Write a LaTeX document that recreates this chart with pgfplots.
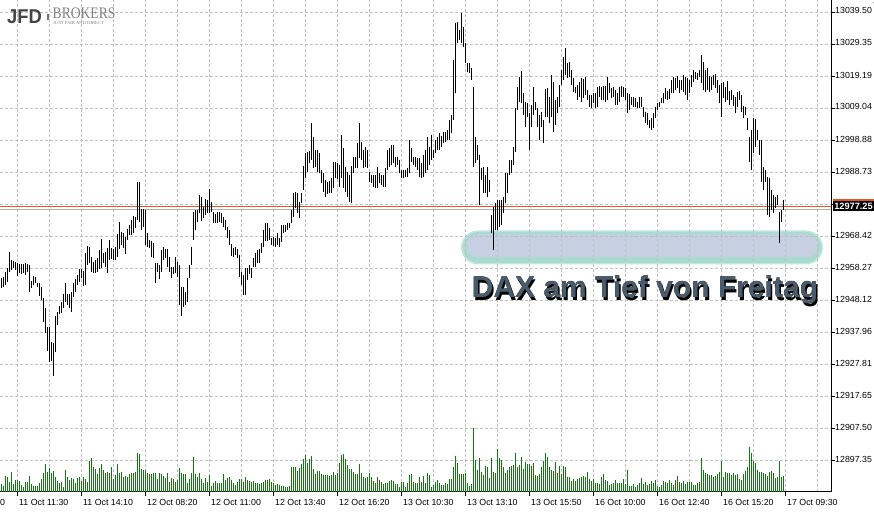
\documentclass[border=0pt]{standalone}
\usepackage{fontspec}
\setmainfont{Liberation Sans}
\newfontfamily\logoserif{Liberation Serif}
\usepackage{graphicx}
\usepackage{pdfrender}
\usepackage{pgfplots}
\usepackage{pgfplotstable}
\pgfplotsset{compat=1.18}

\definecolor{gridgray}{RGB}{192,192,192}
\definecolor{volgreen}{RGB}{16,122,16}
\definecolor{bidgray}{RGB}{176,176,176}
\definecolor{askorange}{RGB}{232,86,40}
\definecolor{elfill}{RGB}{198,208,226}
\definecolor{elmint}{RGB}{168,218,208}
\definecolor{daxtext}{RGB}{74,92,108}
\definecolor{logogray}{RGB}{68,68,68}
\definecolor{shadowgray}{RGB}{205,205,205}

\newcommand\ticks{\fontsize{8.8}{10}\selectfont}
\newcommand\bigf{\bfseries\fontsize{30}{32}\selectfont}

% bar index k, high, low, volume (px = 1 + 2k)
\pgfplotstableread{
k h l v
0 12955.10 12951.92 24
1 12955.62 12952.45 18
2 12957.21 12952.98 48
3 12958.27 12953.83 44
4 12963.56 12957.21 31
5 12960.91 12957.74 59
6 12960.70 12958.27 24
7 12960.38 12957.74 36
8 12959.85 12955.84 36
9 12959.54 12956.68 34
10 12959.64 12956.47 21
11 12959.64 12956.89 14
12 12959.85 12956.15 29
13 12959.54 12957.21 29
14 12959.33 12950.87 48
15 12954.36 12951.92 23
16 12955.84 12952.98 19
17 12955.41 12953.51 18
18 12953.51 12952.45 19
19 12953.51 12949.60 26
20 12952.24 12948.22 38
21 12948.75 12941.35 56
22 12945.58 12937.65 84
23 12939.76 12932.15 59
24 12939.76 12928.66 73
25 12934.79 12928.87 56
26 12934.69 12924.22 63
27 12943.15 12931.62 44
28 12944.52 12940.29 33
29 12946.42 12943.68 26
30 12947.69 12944.20 31
31 12950.13 12945.58 16
32 12953.72 12947.69 66
33 12950.13 12946.64 46
34 12950.13 12945.58 36
35 12950.87 12944.52 41
36 12953.72 12949.28 38
37 12954.78 12950.87 26
38 12956.15 12952.98 41
39 12957.95 12954.04 44
40 12957.95 12955.10 33
41 12957.53 12952.66 46
42 12963.24 12952.98 38
43 12965.35 12959.33 31
44 12964.93 12959.85 93
45 12961.97 12957.21 103
46 12960.38 12956.68 74
47 12960.91 12956.89 68
48 12961.44 12957.21 54
49 12964.08 12957.95 71
50 12967.47 12958.27 84
51 12963.03 12959.85 66
52 12963.56 12958.80 56
53 12964.61 12956.89 59
54 12967.26 12960.91 58
55 12964.61 12961.12 76
56 12964.30 12960.91 38
57 12965.14 12960.91 51
58 12969.16 12961.97 84
59 12973.07 12964.40 58
60 12969.69 12965.67 61
61 12969.37 12964.61 44
62 12968.10 12962.82 48
63 12970.64 12967.26 44
64 12972.02 12968.84 54
65 12973.60 12968.84 56
66 12974.87 12969.37 58
67 12974.45 12970.96 61
68 12985.76 12973.60 118
69 12985.76 12973.07 113
70 12976.99 12970.43 68
71 12976.99 12971.28 66
72 12976.77 12965.67 66
73 12969.37 12965.14 56
74 12967.26 12964.61 53
75 12967.05 12961.97 53
76 12966.41 12961.44 58
77 12959.85 12953.51 56
78 12959.85 12957.21 38
79 12959.33 12954.78 58
80 12964.08 12957.21 54
81 12965.14 12960.91 48
82 12964.40 12961.44 41
83 12964.30 12958.80 58
84 12961.97 12957.21 31
85 12958.59 12955.10 41
86 12958.80 12956.47 39
87 12961.97 12956.68 31
88 12960.38 12955.62 36
89 12959.33 12946.64 71
90 12952.45 12943.25 56
91 12952.24 12946.11 53
92 12950.87 12946.64 53
93 12955.31 12947.69 28
94 12959.33 12955.10 38
95 12965.14 12959.33 58
96 12976.25 12967.26 106
97 12976.77 12970.43 54
98 12976.77 12973.07 44
99 12981.53 12975.72 58
100 12981.00 12973.39 38
101 12977.83 12974.13 28
102 12980.16 12975.19 41
103 12979.95 12975.72 31
104 12983.33 12975.72 51
105 12979.42 12976.25 18
106 12976.03 12972.76 28
107 12975.51 12972.76 33
108 12976.03 12972.76 28
109 12976.03 12973.07 26
110 12975.72 12972.76 28
111 12974.66 12971.49 54
112 12973.60 12970.43 36
113 12971.49 12968.00 41
114 12970.43 12965.67 46
115 12965.99 12962.18 36
116 12964.61 12961.97 26
117 12965.14 12962.50 21
118 12964.30 12961.44 31
119 12962.50 12955.62 39
120 12957.21 12952.98 39
121 12956.15 12949.81 31
122 12958.27 12949.81 46
123 12958.27 12954.57 36
124 12959.33 12956.47 33
125 12958.27 12955.10 29
126 12961.44 12958.59 33
127 12963.03 12958.59 28
128 12964.08 12959.85 26
129 12964.30 12959.85 23
130 12966.41 12963.03 28
131 12970.43 12965.14 31
132 12972.76 12967.05 36
133 12972.76 12967.05 36
134 12970.96 12967.26 38
135 12967.79 12965.67 31
136 12968.10 12965.46 26
137 12967.79 12965.14 21
138 12969.37 12965.67 23
139 12967.79 12965.14 20
140 12972.02 12966.73 19
141 12972.02 12969.37 19
142 12972.02 12969.90 16
143 12972.76 12970.43 14
144 12972.76 12970.96 18
145 12976.77 12972.54 74
146 12982.06 12974.66 76
147 12982.59 12977.30 74
148 12982.06 12975.72 64
149 12979.42 12974.13 71
150 12982.06 12978.89 84
151 12990.73 12983.12 98
152 12994.75 12986.82 111
153 12995.28 12988.93 86
154 12995.60 12991.58 98
155 13004.27 12992.63 108
156 13000.04 12989.99 68
157 12995.81 12990.52 53
158 12995.81 12988.93 63
159 12994.75 12988.40 63
160 12989.46 12985.23 53
161 12988.40 12982.59 51
162 12986.29 12981.00 51
163 12985.76 12981.85 51
164 12986.08 12982.06 48
165 12986.82 12982.06 51
166 12992.11 12983.65 61
167 12992.11 12986.82 51
168 12991.58 12986.50 58
169 12991.05 12984.17 88
170 13000.57 12986.82 112
171 12996.34 12983.65 114
172 12990.52 12982.59 98
173 12988.93 12981.00 82
174 12987.88 12979.42 70
175 12990.73 12979.10 68
176 12993.69 12988.40 60
177 12993.69 12989.99 54
178 12997.92 12989.99 54
179 13004.27 12993.16 84
180 12998.45 12992.63 56
181 12995.81 12989.99 46
182 12996.86 12990.52 41
183 12995.81 12989.99 46
184 12988.93 12985.76 58
185 12987.88 12985.23 46
186 12987.88 12984.17 34
187 12987.88 12983.65 28
188 12990.52 12983.65 44
189 12988.40 12985.23 36
190 12987.88 12984.70 31
191 12987.88 12984.17 23
192 12989.99 12984.17 28
193 12995.81 12989.46 28
194 12996.34 12990.52 33
195 12997.39 12991.05 36
196 12997.39 12991.58 33
197 12993.69 12990.52 23
198 12993.69 12991.05 23
199 12992.63 12988.40 16
200 12989.46 12986.82 29
201 12989.46 12986.82 29
202 12989.46 12987.35 16
203 12989.99 12987.35 26
204 12998.98 12988.40 51
205 12996.34 12992.11 54
206 12993.69 12991.05 31
207 12993.69 12990.52 26
208 12993.16 12989.46 28
209 12993.16 12987.35 46
210 12991.58 12986.82 31
211 12994.23 12987.35 48
212 12995.81 12988.41 26
213 13000.04 12989.47 56
214 12996.87 12991.05 51
215 13000.57 12992.64 16
216 12995.81 12993.17 21
217 12998.98 12994.75 31
218 13000.04 12995.81 36
219 13001.31 12995.81 26
220 13000.25 12996.87 21
221 13001.63 12997.93 21
222 13001.63 12998.46 28
223 13002.16 12998.98 23
224 13005.33 12998.98 38
225 13006.92 13001.10 38
226 13024.36 13005.33 76
227 13036.00 13013.79 108
228 13036.53 13029.65 88
229 13033.88 13030.71 53
230 13039.38 13029.65 53
231 13034.94 13028.59 53
232 13029.65 13023.31 58
233 13023.52 13020.66 26
234 13023.31 13020.13 18
235 13021.72 13018.02 23
236 13015.90 12990.52 191
237 13000.04 12991.58 96
238 12997.40 12992.64 66
239 12994.23 12978.36 101
240 12990.00 12986.29 61
241 12990.52 12982.06 51
242 12987.88 12982.06 79
243 12990.52 12981.01 74
244 12986.29 12982.59 41
245 12975.19 12969.37 101
246 12977.83 12964.09 61
247 12978.89 12970.43 58
248 12979.95 12970.43 128
249 12979.95 12971.49 101
250 12979.95 12972.02 96
251 12981.01 12975.72 76
252 12988.41 12978.89 58
253 12988.41 12982.06 66
254 12992.64 12987.88 76
255 12992.64 12988.41 78
256 12996.87 12991.05 81
257 13009.03 12995.28 116
258 13015.69 13008.50 74
259 13019.08 13011.15 81
260 13020.88 13010.62 104
261 13013.79 13006.92 69
262 13011.15 13003.21 91
263 13010.62 13006.39 83
264 13007.44 12995.81 84
265 13010.09 13003.21 79
266 13015.90 13006.92 86
267 13011.15 13008.50 51
268 13009.03 13003.21 48
269 13006.92 12998.98 54
270 13007.97 13003.21 76
271 13005.33 12997.93 94
272 13015.06 13006.39 116
273 13015.38 13006.39 104
274 13012.73 13004.27 76
275 13019.61 13006.39 66
276 13017.49 13001.63 63
277 13011.67 13003.74 89
278 13012.73 13007.44 58
279 13016.43 13009.56 78
280 13021.19 13016.43 54
281 13025.42 13018.02 78
282 13028.07 13019.61 74
283 13023.31 13018.55 46
284 13023.84 13019.08 44
285 13021.19 13016.43 34
286 13018.55 13014.32 38
287 13015.90 13013.79 34
288 13016.43 13011.67 38
289 13017.49 13012.73 41
290 13018.55 13011.15 44
291 13018.23 13012.20 48
292 13019.08 13013.26 44
293 13014.85 13011.67 61
294 13013.26 13009.56 38
295 13013.26 13009.03 34
296 13013.79 13010.62 38
297 13013.79 13009.03 26
298 13015.90 13009.56 28
299 13016.12 13012.73 23
300 13015.90 13011.67 44
301 13016.12 13011.67 53
302 13016.12 13011.15 36
303 13019.08 13011.67 33
304 13016.96 13013.79 21
305 13015.38 13012.20 23
306 13015.69 13012.73 26
307 13014.85 13010.09 36
308 13013.79 13010.09 26
309 13015.69 13011.15 28
310 13016.12 13012.73 26
311 13015.69 13012.73 38
312 13015.38 13011.67 23
313 13013.79 13007.44 66
314 13013.58 13008.50 18
315 13012.73 13010.09 18
316 13012.52 13009.56 24
317 13012.20 13009.35 16
318 13011.15 13009.03 21
319 13012.73 13009.03 26
320 13012.52 13009.56 41
321 13009.56 13006.39 24
322 13007.97 13004.27 31
323 13007.44 13003.74 21
324 13005.33 13002.69 24
325 13005.86 13002.16 33
326 13007.44 13002.69 26
327 13009.35 13005.86 36
328 13010.62 13008.50 18
329 13011.15 13009.35 16
330 13012.20 13010.62 21
331 13013.79 13010.62 33
332 13015.38 13011.89 31
333 13014.64 13011.67 28
334 13015.06 13011.89 36
335 13018.02 13013.79 28
336 13019.08 13014.00 21
337 13018.55 13014.85 36
338 13019.29 13015.38 48
339 13018.02 13013.79 31
340 13018.02 13014.85 26
341 13019.61 13014.32 33
342 13019.08 13013.26 23
343 13018.55 13011.67 31
344 13018.02 13013.79 31
345 13019.61 13015.90 31
346 13021.19 13017.49 21
347 13020.66 13018.23 21
348 13020.35 13018.02 26
349 13021.19 13019.08 31
350 13025.95 13016.96 101
351 13023.84 13014.85 66
352 13021.19 13014.32 56
353 13021.72 13014.85 53
354 13019.29 13014.32 51
355 13019.08 13014.85 51
356 13019.61 13016.43 46
357 13019.92 13015.38 48
358 13018.02 13013.79 54
359 13016.43 13010.62 61
360 13017.17 13006.39 94
361 13017.49 13012.20 46
362 13015.90 13011.15 61
363 13017.81 13011.67 58
364 13014.64 13010.09 58
365 13014.85 13011.67 51
366 13013.26 13009.77 56
367 13012.73 13007.66 51
368 13014.32 13009.56 54
369 13014.64 13011.67 38
370 13013.26 13007.97 36
371 13009.77 13005.86 53
372 13009.56 13006.92 64
373 13005.86 13002.16 74
374 13000.04 12992.11 136
375 13002.16 12989.47 118
376 13005.86 12994.75 94
377 13005.54 12996.87 86
378 13002.16 12998.98 66
379 12998.98 12994.23 61
380 12998.98 12985.66 61
381 12990.42 12983.12 56
382 12989.47 12985.66 53
383 12987.25 12975.19 48
384 12986.93 12974.56 61
385 12983.12 12976.78 64
386 12981.53 12975.82 56
387 12980.90 12977.41 41
388 12981.53 12978.36 44
389 12976.14 12966.31 94
390 12976.78 12972.97 46
391 12979.95 12976.78 48
}\bars

\begin{document}
\begin{tikzpicture}
% highlighted zone behind the chart
\fill[elmint!70, rounded corners=17pt] (461pt,248.5pt) rectangle (823pt,282.5pt);
\fill[elmint, rounded corners=15.5pt] (463pt,250pt) rectangle (821pt,281pt);
\fill[elfill, rounded corners=11pt] (466pt,256pt) rectangle (818pt,278.5pt);

\begin{axis}[
  at={(0pt,21pt)}, anchor=south west,
  scale only axis, width=831pt, height=492pt,
  xmin=-0.5, xmax=415, ymin=12887.31, ymax=13043.40,
  axis x line=bottom, axis y line=right,
  axis line style={-, black, line width=1pt},
  xtick={8,40,...,392}, xticklabels={},
  minor xtick={24,56,...,408},
  ytick={13039.50,13029.35,13019.19,13009.04,12998.88,12988.73,12978.58,12968.42,12958.27,12948.12,12937.96,12927.81,12917.65,12907.50,12897.35},
  yticklabels={13039.50,13029.35,13019.19,13009.04,12998.88,12988.73,12978.58,12968.42,12958.27,12948.12,12937.96,12927.81,12917.65,12907.50,12897.35},
  xmajorgrids, xminorgrids, ymajorgrids,
  grid style={gridgray, line width=1pt, dash pattern=on 3pt off 2pt},
  minor grid style={gridgray, line width=1pt, dash pattern=on 3pt off 2pt},
  tick align=outside, major tick length=4pt, minor tick length=0pt,
  tick style={black, line width=1pt},
  yticklabel style={font=\ticks, anchor=base west, inner sep=0pt, xshift=0pt, yshift=-1.7pt},
  /pgf/number format/assume math mode=true,
]
  \addplot[askorange, line width=1pt, forget plot] coordinates {(-0.5,12977.94) (415,12977.94)};
  \addplot[bidgray, line width=1pt, forget plot] coordinates {(-0.5,12977.00) (415,12977.00)};
  \addplot[draw=none, mark=none, forget plot,
    error bars/.cd, y dir=plus, y explicit, error mark=none,
    error bar style={draw=black, line width=1pt, solid}]
    table[x=k, y=l, y error expr=\thisrow{h}-\thisrow{l}] {\bars};
\end{axis}

\begin{axis}[
  at={(0pt,21pt)}, anchor=south west,
  scale only axis, width=831pt, height=492pt,
  xmin=-0.5, xmax=415, ymin=0, ymax=1476,
  hide axis,
]
  \addplot[ycomb, volgreen, line width=1pt, mark=none] table[x=k, y=v] {\bars};
\end{axis}

% time labels, left aligned at the ticks (px = 1 + 2k)
\foreach \k/\lab in {-24/11 Oct 08:50, 8/11 Oct 11:30, 40/11 Oct 14:10, 72/12 Oct 08:20,
  104/12 Oct 11:00, 136/12 Oct 13:40, 168/12 Oct 16:20, 200/13 Oct 10:30,
  232/13 Oct 13:10, 264/13 Oct 15:50, 296/16 Oct 10:00, 328/16 Oct 12:40,
  360/16 Oct 15:20, 392/17 Oct 09:30}
  \node[anchor=base west, inner sep=0pt, font=\ticks] at ({(3+2*\k)*1pt}, 7.7pt) {\lab};

% current price box
\fill[black] (833pt,302pt) rectangle (874pt,312pt);
\fill[askorange] (833pt,312pt) rectangle (874pt,314pt);
\node[anchor=base, inner sep=0pt, text=white, font=\bfseries\fontsize{9.2}{10}\selectfont] at (853.5pt,303pt) {12977.25};

% annotation text: soft shadow, white outline, then the fill
\node[anchor=base, inner sep=0pt, font=\bigf] at (646.5pt,212.2pt)
  {\textpdfrender{TextRenderingMode=FillStroke, LineWidth=4pt, LineJoin=1, StrokeColor=shadowgray, FillColor=shadowgray}{DAX am Tief von Freitag}};
\node[anchor=base, inner sep=0pt, font=\bigf] at (645pt,215pt)
  {\textpdfrender{TextRenderingMode=FillStroke, LineWidth=3.6pt, LineJoin=1, StrokeColor=white, FillColor=white}{DAX am Tief von Freitag}};
\node[anchor=base, inner sep=0pt, text=daxtext, font=\bigf] at (645pt,215pt) {DAX am Tief von Freitag};

% logo
\node[anchor=base west, inner sep=0pt, text=logogray, font=\bfseries\fontsize{20}{20}\selectfont] at (7pt,489pt) {\scalebox{0.92}[1]{JFD}};
\fill[black!55] (47.3pt,492.5pt) rectangle (49.3pt,499pt);
\node[anchor=base west, inner sep=0pt, text=black!50, font=\logoserif\fontsize{16}{16}\selectfont] at (52.5pt,494pt) {\scalebox{0.85}[1]{BROKERS}};
\node[anchor=base west, inner sep=0pt, text=black!50, font=\logoserif\fontsize{4.6}{5}\selectfont] at (53pt,488.6pt) {JUST FAIR AND DIRECT};

\pgfresetboundingbox
\path[use as bounding box] (0pt,0pt) rectangle (874pt,513pt);
\end{tikzpicture}
\end{document}
